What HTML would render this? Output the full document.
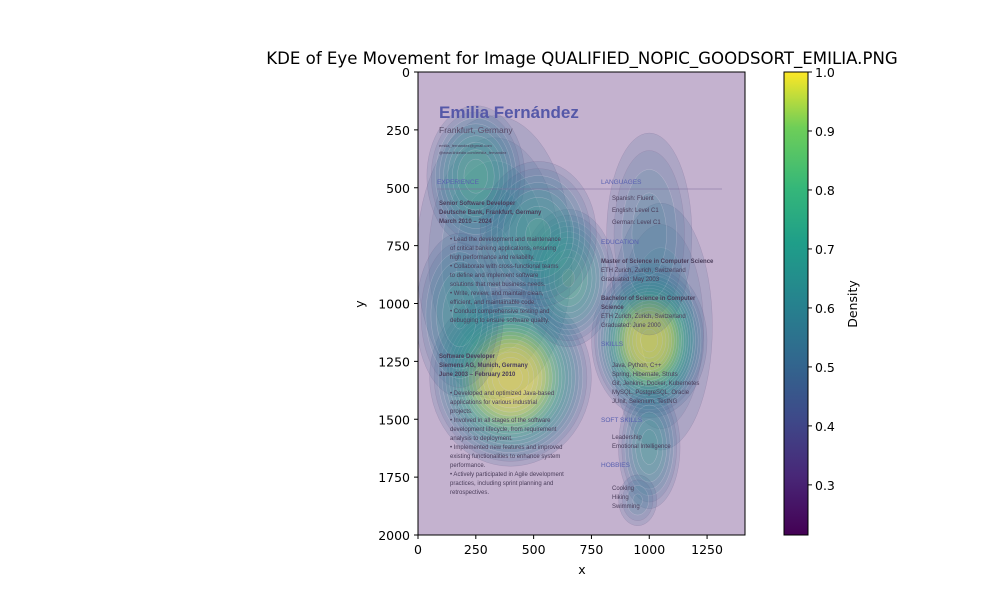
<!DOCTYPE html>
<html><head><meta charset="utf-8"><style>
body{margin:0;background:#fff;font-family:"DejaVu Sans",sans-serif}
svg text{font-family:"DejaVu Sans","Liberation Sans",sans-serif}
#resume text{font-family:"Liberation Sans",sans-serif}
</style></head><body>
<svg id="c" width="1000" height="600" xmlns="http://www.w3.org/2000/svg">
<defs>
<linearGradient id="cbar" x1="0" y1="1" x2="0" y2="0">
<stop offset="0" stop-color="#440154"/><stop offset="0.13" stop-color="#482878"/><stop offset="0.25" stop-color="#3e4989"/><stop offset="0.38" stop-color="#31688e"/><stop offset="0.5" stop-color="#26828e"/><stop offset="0.63" stop-color="#1f9e89"/><stop offset="0.75" stop-color="#35b779"/><stop offset="0.88" stop-color="#6ece58"/><stop offset="1" stop-color="#fde725"/>
</linearGradient>
<clipPath id="pc"><rect x="418" y="72" width="327" height="463"/></clipPath>
</defs>
<text x="582" y="64" font-size="16.6" text-anchor="middle">KDE of Eye Movement for Image QUALIFIED_NOPIC_GOODSORT_EMILIA.PNG</text>
<g id="plot" clip-path="url(#pc)">
<rect x="418" y="72" width="327" height="463" fill="#c4b2cf"/>
<g id="blobs"></g>
<g id="resume" font-size="6" fill="#4a3d5a">
<text x="439" y="118" font-size="17" fill="#5558a8" font-weight="bold">Emilia Fernández</text>
<text x="439" y="133" font-size="8.5" fill="#5a4d6a">Frankfurt, Germany</text>
<text x="439" y="147" font-size="4">emilia_fernandez@gmail.com</text>
<text x="439" y="154" font-size="4">@www.linkedin.com/emilia_fernandez</text>
<text x="437" y="184" font-size="6.5" fill="#5860b0">EXPERIENCE</text>
<text x="601" y="184" font-size="6.5" fill="#5860b0">LANGUAGES</text>
<line x1="437" y1="189" x2="722" y2="189" stroke="#7a6a9a" stroke-width="0.6"/>
<text x="439" y="205" font-weight="bold">Senior Software Developer</text>
<text x="439" y="214" font-weight="bold">Deutsche Bank, Frankfurt, Germany</text>
<text x="439" y="223" font-weight="bold">March 2010 – 2024</text>
<text x="612" y="200">Spanish: Fluent</text>
<text x="612" y="212">English: Level C1</text>
<text x="612" y="224">German: Level C1</text>
<text x="601" y="244" font-size="6.5" fill="#5860b0">EDUCATION</text>
<text x="450" y="241">• Lead the development and maintenance</text>
<text x="450" y="250">of critical banking applications, ensuring</text>
<text x="450" y="259">high performance and reliability.</text>
<text x="450" y="268">• Collaborate with cross-functional teams</text>
<text x="450" y="277">to define and implement software</text>
<text x="450" y="286">solutions that meet business needs.</text>
<text x="450" y="295">• Write, review, and maintain clean,</text>
<text x="450" y="304">efficient, and maintainable code.</text>
<text x="450" y="313">• Conduct comprehensive testing and</text>
<text x="450" y="322">debugging to ensure software quality.</text>
<text x="601" y="263" font-weight="bold">Master of Science in Computer Science</text>
<text x="601" y="272">ETH Zurich, Zurich, Switzerland</text>
<text x="601" y="281">Graduated: May 2003</text>
<text x="601" y="300" font-weight="bold">Bachelor of Science in Computer</text>
<text x="601" y="309" font-weight="bold">Science</text>
<text x="601" y="318">ETH Zurich, Zurich, Switzerland</text>
<text x="601" y="327">Graduated: June 2000</text>
<text x="601" y="346" font-size="6.5" fill="#5860b0">SKILLS</text>
<text x="439" y="358" font-weight="bold">Software Developer</text>
<text x="439" y="367" font-weight="bold">Siemens AG, Munich, Germany</text>
<text x="439" y="376" font-weight="bold">June 2003 – February 2010</text>
<text x="612" y="367">Java, Python, C++</text>
<text x="612" y="376">Spring, Hibernate, Struts</text>
<text x="612" y="385">Git, Jenkins, Docker, Kubernetes</text>
<text x="612" y="394">MySQL, PostgreSQL, Oracle</text>
<text x="612" y="403">JUnit, Selenium, TestNG</text>
<text x="450" y="395">• Developed and optimized Java-based</text>
<text x="450" y="404">applications for various industrial</text>
<text x="450" y="413">projects.</text>
<text x="450" y="422">• Involved in all stages of the software</text>
<text x="450" y="431">development lifecycle, from requirement</text>
<text x="450" y="440">analysis to deployment.</text>
<text x="450" y="449">• Implemented new features and improved</text>
<text x="450" y="458">existing functionalities to enhance system</text>
<text x="450" y="467">performance.</text>
<text x="450" y="476">• Actively participated in Agile development</text>
<text x="450" y="485">practices, including sprint planning and</text>
<text x="450" y="494">retrospectives.</text>
<text x="601" y="422" font-size="6.5" fill="#5860b0">SOFT SKILLS</text>
<text x="612" y="439">Leadership</text>
<text x="612" y="448">Emotional Intelligence</text>
<text x="601" y="467" font-size="6.5" fill="#5860b0">HOBBIES</text>
<text x="612" y="490">Cooking</text>
<text x="612" y="499">Hiking</text>
<text x="612" y="508">Swimming</text>
</g>
</g>
<rect x="418" y="72" width="327" height="463" fill="none" stroke="#000" stroke-width="1"/>
<g id="axes" font-size="12.5"></g>
<text x="582" y="574" font-size="12.5" text-anchor="middle">x</text>
<text x="364" y="304" font-size="12.5" text-anchor="middle" transform="rotate(-90 364 304)">y</text>
<rect x="784" y="72" width="24" height="463" fill="url(#cbar)" stroke="#000" stroke-width="1"/>
<g id="cbticks" font-size="12.5"></g>
<text x="857" y="304" font-size="12.5" text-anchor="middle" transform="rotate(-90 857 304)">Density</text>
</svg>
<script>
const xTicks=[0,250,500,750,1000,1250];
const yTicks=[0,250,500,750,1000,1250,1500,1750,2000];
const cbTicks=[0.3,0.4,0.5,0.6,0.7,0.8,0.9,1.0];
const blobX=[330,1050,400,1000,250,650,1000,520,180,1000,950];
const blobY=[800,1100,1320,1160,450,890,1620,700,1050,700,1850];
const blobSx=[330,230,210,150,160,150,110,200,160,190,90];
const blobSy=[600,550,230,200,230,220,220,250,300,450,120];
const blobPeak=[0.42,0.4,1.0,1.0,0.6,0.62,0.52,0.55,0.5,0.4,0.38];
const X0=418,Y0=72,PX=327/1414,PY=463/2000;
const xs=v=>X0+v*PX, ys=v=>Y0+v*PY;
const CBMIN=0.215,CBMAX=1.0;
const cbs=v=>535-(v-CBMIN)/(CBMAX-CBMIN)*463;
const NS="http://www.w3.org/2000/svg";
const vir=["#440154","#482878","#3e4989","#31688e","#26828e","#1f9e89","#35b779","#6ece58","#b5de2b","#fde725"];
function col(v){let t=Math.max(0,Math.min(1,(v-CBMIN)/(CBMAX-CBMIN)));return vir[Math.round(t*9)];}
function mk(tag,attrs,parent){const e=document.createElementNS(NS,tag);for(const k in attrs)e.setAttribute(k,attrs[k]);parent.appendChild(e);return e;}
const bg=document.getElementById('blobs');
for(let i=0;i<blobX.length;i++){
  const g=mk('g',{opacity:0.55},bg);
  
  
  for(let lv=0.25;lv<blobPeak[i];lv+=0.04){
    const r=Math.sqrt(-2*Math.log(lv/blobPeak[i]));
    const e=mk('ellipse',{cx:xs(blobX[i]),cy:ys(blobY[i]),rx:r*blobSx[i]*PX,ry:r*blobSy[i]*PY,fill:col(lv+0.2),'fill-opacity':0.28,stroke:lv<0.3?'#5a4a7a':'#e8e8f0','stroke-width':0.4,'stroke-opacity':0.6},g);
    
    
  }
}
const ax=document.getElementById('axes');
xTicks.forEach(v=>{
  const l=mk('line',{x1:xs(v),x2:xs(v),y1:535,y2:539,stroke:'#000'},ax);
  
  
  const t=mk('text',{x:xs(v),y:554,'text-anchor':'middle'},ax);t.textContent=v;
  
  
});
yTicks.forEach(v=>{
  const l=mk('line',{x1:414,x2:418,y1:ys(v),y2:ys(v),stroke:'#000'},ax);
  
  
  const t=mk('text',{x:410,y:ys(v)+5,'text-anchor':'end'},ax);t.textContent=v;
  
  
});
const cb=document.getElementById('cbticks');
cbTicks.forEach(v=>{
  const l=mk('line',{x1:808,x2:812,y1:cbs(v),y2:cbs(v),stroke:'#000'},cb);
  
  
  const t=mk('text',{x:815,y:cbs(v)+5},cb);t.textContent=v.toFixed(1);
  
  
});
</script>
</body></html>
